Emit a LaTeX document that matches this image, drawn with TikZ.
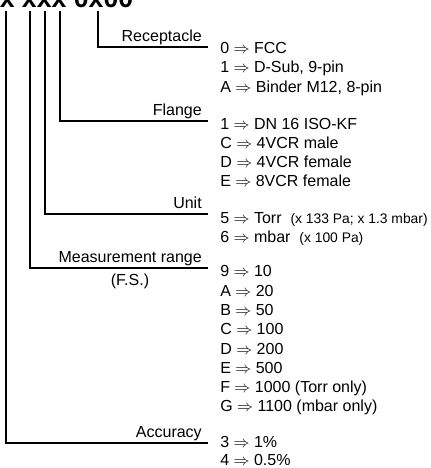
\documentclass[tikz,border=0pt]{standalone}
\usepackage{fontspec}
\setmainfont{Liberation Sans}
\usepackage{amsmath}

\newcommand{\unitnote}[1]{{\fontsize{10.4}{12}\selectfont #1}}

\tikzset{
  lbl/.style={anchor=base east, inner sep=0pt, font=\fontsize{12}{14}\selectfont},
  item/.style={anchor=base west, inner sep=0pt, font=\fontsize{12}{14}\selectfont},
  lead/.style={line width=0.8pt}
}

\begin{document}
\begin{tikzpicture}[x=0.75pt, y=-0.75pt]
\useasboundingbox (0,0) rectangle (430,468);
\clip (0,0) rectangle (430,468);
% code header:
\node[anchor=base west, inner sep=0pt, font=\fontsize{20}{24}\bfseries\selectfont] (code) at (-0.5,7.5) {x xxx 0x00};
\coordinate (t-acc) at (6,11);
\coordinate (t-range) at (30,11);
\coordinate (t-unit) at (45,11);
\coordinate (t-fl) at (60,11);
\coordinate (t-rec) at (98,11);
% labels:
\node[lbl] (rec) at (202,41) {Receptacle};
\node[lbl] (fl) at (202,115) {Flange};
\node[lbl] (unit) at (202,208) {Unit};
\node[lbl] (range) at (202,262) {Measurement range};
\node[lbl, anchor=base] (fs) at (130,285) {(F.S.)};
\node[lbl] (acc) at (202,437) {Accuracy};
\coordinate (e-rec) at (208,47);
\coordinate (e-fl) at (208,121);
\coordinate (e-unit) at (208,214);
\coordinate (e-range) at (208,268);
\coordinate (e-acc) at (208,443);
% leaders:
\draw[lead] (t-rec) |- (e-rec);
\draw[lead] (t-fl) |- (e-fl);
\draw[lead] (t-unit) |- (e-unit);
\draw[lead] (t-range) |- (e-range);
\draw[lead] (t-acc) |- (e-acc);
% receptacle codes:
\foreach \t [count=\i] in {{0 $\Rightarrow$ FCC},{1 $\Rightarrow$ D-Sub, 9-pin},{A $\Rightarrow$ Binder M12, 8-pin}}
  \node[item] (rec\i) at (220,34.5+19.2*\i) {\t};
% flange codes:
\foreach \t [count=\i] in {{1 $\Rightarrow$ DN 16 ISO-KF},{C $\Rightarrow$ 4VCR male},{D $\Rightarrow$ 4VCR female},{E $\Rightarrow$ 8VCR female}}
  \node[item] (fl\i) at (220,110+19.2*\i) {\t};
% unit codes:
\node[item] (unit1) at (220,223) {5 $\Rightarrow$ Torr\ \ \unitnote{(x 133 Pa; x 1.3 mbar)}};
\node[item] (unit2) at (220,242.2) {6 $\Rightarrow$ mbar\ \ \unitnote{(x 100 Pa)}};
% range codes:
\foreach \t [count=\i] in {{9 $\Rightarrow$ 10},{A $\Rightarrow$ 20},{B $\Rightarrow$ 50},{C $\Rightarrow$ 100},{D $\Rightarrow$ 200},{E $\Rightarrow$ 500},{F $\Rightarrow$ 1000 (Torr only)},{G $\Rightarrow$ 1100 (mbar only)}}
  \node[item] (range\i) at (220,257.5+19.3*\i) {\t};
% accuracy codes:
\node[item] (acc1) at (220,447) {3 $\Rightarrow$ 1\%};
\node[item] (acc2) at (220,465.5) {4 $\Rightarrow$ 0.5\%};
\end{tikzpicture}
\end{document}
